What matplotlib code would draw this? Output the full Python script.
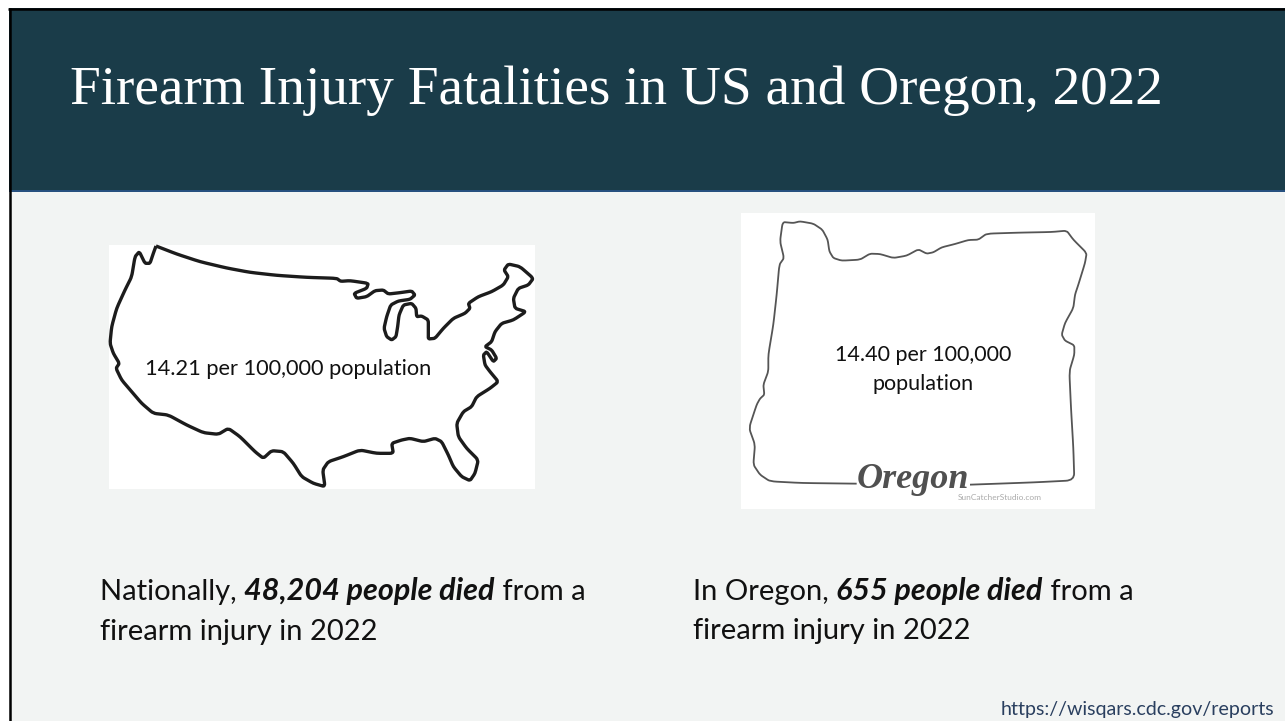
"""Slide: firearm injury fatalities in US and Oregon, 2022 -> out.png"""
import matplotlib
matplotlib.use("Agg")
import matplotlib.pyplot as plt
from matplotlib.patches import PathPatch, Rectangle
from matplotlib.path import Path

TITLE = "Firearm Injury Fatalities in US and Oregon, 2022"
US_RATE = "14.21 per 100,000 population"
OR_RATE = ["14.40 per 100,000", "population"]
US_TEXT = ["Nationally, ", "48,204 people died", " from a", "firearm injury in 2022"]
OR_TEXT = ["In Oregon, ", "655 people died", " from a", "firearm injury in 2022"]
SOURCE = "https://wisqars.cdc.gov/reports"

# outlines, in 3x zoom pixels of each image
US_OUTLINE = [
    (168, 18), (230, 42), (300, 65), (380, 84), (450, 97), (530, 106), (620, 112), (710, 115),
    (722, 124), (750, 122), (805, 130), (800, 145), (762, 160), (770, 175), (800, 170), (825, 152),
    (850, 150), (865, 162), (900, 158), (935, 153), (945, 165), (930, 178), (895, 183), (872, 195),
    (860, 230), (852, 265), (860, 290), (875, 300), (888, 290), (893, 260), (897, 225), (910, 195),
    (935, 190), (948, 205), (950, 230), (965, 228), (985, 240), (985, 275), (985, 297), (1005, 295),
    (1030, 265), (1060, 235), (1095, 220), (1110, 205), (1105, 190), (1135, 170), (1175, 155),
    (1210, 135), (1225, 110), (1212, 90), (1225, 72), (1260, 80), (1300, 115), (1285, 135),
    (1255, 145), (1240, 175), (1245, 205), (1278, 215), (1240, 240), (1205, 250), (1185, 275),
    (1175, 305), (1155, 320), (1175, 330), (1190, 355), (1180, 365), (1160, 335), (1150, 345),
    (1155, 375), (1170, 395), (1195, 425), (1170, 445), (1130, 470), (1115, 500), (1090, 515),
    (1070, 550), (1075, 590), (1100, 625), (1135, 660), (1125, 700), (1110, 722), (1085, 710),
    (1060, 680), (1045, 645), (1025, 605), (1005, 595), (970, 605), (930, 595), (905, 600),
    (875, 610), (880, 640), (830, 640), (780, 630), (730, 650), (685, 665), (668, 690), (675, 740),
    (640, 730), (605, 710), (580, 670), (550, 635), (515, 632), (490, 655), (465, 635), (420, 590),
    (385, 565), (355, 583), (310, 578), (260, 555), (205, 525), (160, 520), (125, 490), (95, 455),
    (65, 420), (48, 385), (58, 370), (40, 340), (30, 310), (35, 260), (50, 205), (75, 150),
    (95, 110), (105, 50), (118, 35), (135, 70), (150, 70), (160, 40), (168, 18),
]
OR_OUTLINE = [
    (705, 830), (900, 823), (1018, 817), (1015, 720), (1008, 600), (1003, 490), (1018, 440),
    (1018, 412), (990, 398), (980, 380), (990, 345), (1015, 300), (1020, 260), (1030, 230),
    (1050, 165), (1055, 135), (1015, 95), (995, 68), (950, 72), (850, 74), (755, 77), (730, 95),
    (700, 96), (660, 108), (620, 118), (595, 133), (575, 137), (550, 124), (515, 143), (475, 150),
    (435, 138), (405, 137), (375, 155), (320, 158), (295, 150), (283, 130), (278, 95), (262, 65),
    (235, 47), (195, 40), (175, 45), (143, 42), (135, 100), (147, 150), (133, 170), (125, 260),
    (115, 350), (100, 440), (100, 490), (85, 530), (88, 560), (75, 572), (65, 590), (42, 660),
    (60, 710), (55, 770), (75, 800), (105, 820), (200, 825), (365, 827),
]


def to_slide(points, left, top):
    return [(left + x / 3, top + y / 3) for x, y in points]


def rounded_path(points, cut=0.22):
    # straight along each segment, a small quadratic curve around each corner
    verts = [points[0]]
    codes = [Path.MOVETO]
    for a, b, c in zip(points, points[1:], points[2:]):
        verts.append((a[0] + (b[0] - a[0]) * (1 - cut), a[1] + (b[1] - a[1]) * (1 - cut)))
        codes.append(Path.LINETO)
        verts += [b, (b[0] + (c[0] - b[0]) * cut, b[1] + (c[1] - b[1]) * cut)]
        codes += [Path.CURVE3, Path.CURVE3]
    verts.append(points[-1])
    codes.append(Path.LINETO)
    return Path(verts, codes)


def mixed_line(ax, x, y, parts):
    """normal / bold italic / normal text on one line, extents count the spaces"""
    styles = [{"fontsize": 21}, {"fontsize": 22, "fontweight": "bold", "fontstyle": "italic"},
              {"fontsize": 21}]
    renderer = ax.figure.canvas.get_renderer()
    for part, style in zip(parts, styles):
        t = ax.text(x, y, part, family="Lato", color="#111111", va="baseline", ha="left", **style)
        x += t.get_window_extent(renderer).width


def main():
    fig = plt.figure(figsize=(12.85, 7.21), dpi=100, facecolor="white")
    ax = fig.add_axes([0, 0, 1, 1])
    ax.set_xlim(0, 1285)
    ax.set_ylim(721, 0)
    ax.axis("off")

    # slide, header band, black edge
    ax.add_patch(Rectangle((9, 8), 1276, 713, facecolor="#f2f4f3", edgecolor="none"))
    ax.add_patch(Rectangle((9, 8), 1276, 182, facecolor="#1a3c49", edgecolor="none"))
    ax.add_patch(Rectangle((9, 189.5), 1276, 2, facecolor="#27507f", edgecolor="none"))
    ax.plot([9.5, 9.5], [721, 8], color="black", lw=1.8, solid_capstyle="butt")
    ax.plot([8, 1285], [8.5, 8.5], color="black", lw=1.8, solid_capstyle="butt")

    ax.text(70, 104, TITLE, fontsize=39.8, family="Liberation Serif", color="white",
            va="baseline", ha="left")

    # US image
    ax.add_patch(Rectangle((109, 245), 426, 244, facecolor="white", edgecolor="none"))
    ax.add_patch(PathPatch(rounded_path(to_slide(US_OUTLINE, 100, 240)), facecolor="none",
                           edgecolor="#1c1c1c", lw=2.4, joinstyle="round"))
    ax.text(145, 375, US_RATE, fontsize=15.65, family="Lato", color="#111111", va="baseline")

    # Oregon image
    ax.add_patch(Rectangle((741, 213), 354, 296, facecolor="white", edgecolor="none"))
    ax.add_patch(PathPatch(rounded_path(to_slide(OR_OUTLINE, 735, 208)), facecolor="none",
                           edgecolor="#555555", lw=1.3, joinstyle="round"))
    ax.text(923, 361, OR_RATE[0], fontsize=15.5, family="Lato", color="#111111",
            va="baseline", ha="center")
    ax.text(923, 390, OR_RATE[1], fontsize=15.5, family="Lato", color="#111111",
            va="baseline", ha="center")
    ax.text(913, 488, "Oregon", fontsize=26, family="Liberation Serif", style="italic",
            weight="bold", color="#505050", ha="center", va="baseline")
    ax.text(1000, 500, "SunCatcherStudio.com", fontsize=6, family="Lato", color="#aaaaaa",
            ha="center", va="baseline")

    fig.canvas.draw()
    mixed_line(ax, 100, 600, US_TEXT[:3])
    ax.text(100, 640, US_TEXT[3], fontsize=21, family="Lato", color="#111111", va="baseline")
    mixed_line(ax, 693, 600, OR_TEXT[:3])
    ax.text(693, 639, OR_TEXT[3], fontsize=21, family="Lato", color="#111111", va="baseline")

    ax.text(1274, 715, SOURCE, fontsize=14.1, family="Lato", color="#2a3f5f", ha="right",
            va="baseline")

    fig.savefig("out.png", dpi=100)


if __name__ == "__main__":
    main()
